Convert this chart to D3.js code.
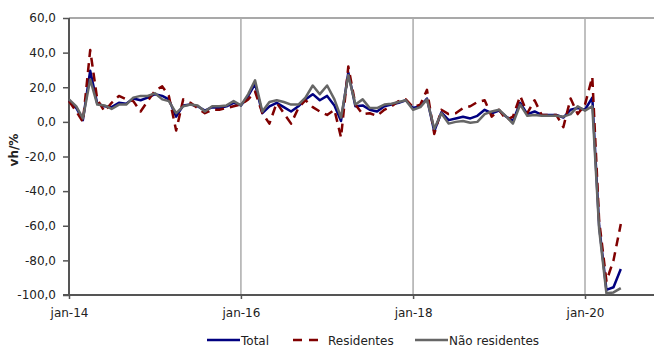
<!DOCTYPE html>
<html>
<head>
<meta charset="utf-8">
<script src="https://cdn.jsdelivr.net/npm/d3@7"></script>
<style>
  html, body { margin: 0; padding: 0; background: #fff; }
  svg { display: block; font-family: "DejaVu Sans", Verdana, sans-serif; }
</style>
</head>
<body>
<svg id="chart" width="654" height="347"></svg>
<script>
// Monthly year-on-year change (%), January 2014 onwards
const firstMonth = "2014-01-01";

const total = [
  12.5, 8, 1, 29.5, 10.5, 9, 8.5, 11, 10.5, 13.5, 12.5, 14,
  16, 15, 13, 3, 9.5, 10, 9, 6.5, 8.5, 8, 9, 11,
  9.5, 15, 22, 5, 9, 11, 8.5, 6, 9, 13, 16, 12.5,
  15, 9.5, 0.5, 28.5, 9, 9.5, 7, 6, 9, 10, 11, 12.5,
  8, 9, 13.5, -5.5, 5.5, 1, 2, 3, 2, 3.5, 7, 5,
  6.5, 3, 0.5, 11, 4.5, 6, 4, 4, 4, 2.5, 7, 8,
  7, 14, -60, -97, -95.5, -85
];

const residentes = [
  12, 6, 0, 41.5, 13, 6, 11, 15, 13, 12, 6, 12,
  18, 20.5, 15, -5, 13, 11, 8, 5, 7, 7, 8, 9,
  10, 13, 17.5, 5, -1, 11, 5, -1, 8, 12.5, 8.5, 6,
  4, 7, -9, 32, 10, 4.5, 5, 3.5, 7, 9, 12, 13,
  8.5, 10, 18.5, -7, 7, 4.5, 5, 8, 9, 11.5, 12.5, 3,
  7, 1, 3, 15, 5, 12.5, 4, 4, 4, -3, 13.5, 4.5,
  10, 26, -57, -92, -80, -59
];

const naoResidentes = [
  13, 9, 2, 24.5, 10, 9.5, 7.5, 10, 10, 14, 15, 15,
  16.5, 13, 12, 5, 9, 10, 9.5, 6, 9, 9, 9.5, 12,
  9.5, 16, 24, 6, 11.5, 12.5, 11.5, 10, 10, 14, 21, 16,
  21, 13, 2.5, 27, 10, 13, 8, 8, 10, 10.5, 11.5, 12.5,
  7, 8.5, 13, -4, 5, -1, 0, 0.5, -0.5, 0, 4.5, 6,
  7, 3, -1, 10, 3.5, 4, 3.5, 3.5, 3.5, 3, 4.5, 9,
  6.5, 9, -62, -99, -98.5, -96
];

const yTicks = [-100, -80, -60, -40, -20, 0, 20, 40, 60];
const xTickDates = ["2014-01-01", "2016-01-01", "2018-01-01", "2020-01-01"];
const xTickLabels = ["jan-14", "jan-16", "jan-18", "jan-20"];

const seriesNames = ["Total", "Residentes", "Não residentes"];
const seriesColors = ["#000080", "#800000", "#666666"];

const svg = d3.select("#chart");
const W = 654;
const plot = { left: 69, top: 18, bottom: 295, right: 654 };

const start = new Date(firstMonth);
const months = d3.utcMonth.range(start, d3.utcMonth.offset(start, total.length));

const x = d3.scaleUtc()
  .domain([new Date("2014-01-01"), new Date("2020-01-01")])
  .range([plot.left, 585]);

const y = d3.scaleLinear()
  .domain([-100, 60])
  .range([plot.bottom, plot.top]);

// top frame line
svg.append("line")
  .attr("x1", plot.left).attr("x2", plot.right)
  .attr("y1", plot.top).attr("y2", plot.top)
  .attr("stroke", "#8c8c8c").attr("stroke-width", 1.5);

// vertical gridlines at the labelled dates
const xTickValues = xTickDates.map(d => new Date(d));
svg.append("g")
  .selectAll("line")
  .data(xTickValues.slice(1))
  .join("line")
  .attr("x1", d => x(d)).attr("x2", d => x(d))
  .attr("y1", plot.top).attr("y2", plot.bottom)
  .attr("stroke", "#ababab").attr("stroke-width", 1.5);

// y axis
const yAxis = svg.append("g")
  .attr("transform", `translate(${plot.left},0)`)
  .call(d3.axisLeft(y)
    .tickValues(yTicks)
    .tickSize(6)
    .tickPadding(7)
    .tickFormat(d => d.toFixed(1).replace(".", ",")));
yAxis.select(".domain").remove();
yAxis.selectAll(".tick line").attr("stroke", "#555").attr("stroke-width", 1.5);
yAxis.selectAll(".tick text")
  .attr("fill", "#222")
  .style("font-size", "12px")
  .style("font-family", "'DejaVu Sans', sans-serif");

svg.append("line")
  .attr("x1", plot.left).attr("x2", plot.left)
  .attr("y1", plot.top).attr("y2", plot.bottom)
  .attr("stroke", "#555").attr("stroke-width", 2);

// x axis
const xAxis = svg.append("g")
  .attr("transform", `translate(0,${plot.bottom})`)
  .call(d3.axisBottom(x)
    .tickValues(xTickValues)
    .tickSize(4)
    .tickPadding(9)
    .tickFormat((d, i) => xTickLabels[i]));
xAxis.select(".domain").remove();
xAxis.selectAll(".tick line").attr("stroke", "#555").attr("stroke-width", 1.5);
xAxis.selectAll(".tick text")
  .attr("fill", "#222")
  .style("font-size", "12px")
  .style("font-family", "'DejaVu Sans', sans-serif");

svg.append("line")
  .attr("x1", plot.left - 6).attr("x2", plot.right)
  .attr("y1", plot.bottom).attr("y2", plot.bottom)
  .attr("stroke", "#555").attr("stroke-width", 2);

// y axis title
svg.append("text")
  .attr("transform", `translate(18,150) rotate(-90)`)
  .attr("text-anchor", "middle")
  .style("font-size", "12px")
  .style("font-weight", "bold")
  .attr("fill", "#222")
  .text("vh/%");

// series lines
const line = d3.line()
  .x((d, i) => x(months[i]))
  .y(d => y(d));

const seriesData = [total, residentes, naoResidentes];
seriesData.forEach((values, k) => {
  svg.append("path")
    .datum(values)
    .attr("fill", "none")
    .attr("stroke", seriesColors[k])
    .attr("stroke-width", 2.5)
    .attr("stroke-linejoin", "round")
    .attr("stroke-dasharray", k === 1 ? "9,6" : null)
    .attr("d", line);
});

// legend
const legendItems = [
  { x1: 207, x2: 240, tx: 241 },
  { x1: 293, x2: 318, tx: 328 },
  { x1: 415, x2: 448, tx: 449 }
];
const legend = svg.append("g");
legendItems.forEach((it, k) => {
  legend.append("line")
    .attr("x1", it.x1).attr("x2", it.x2)
    .attr("y1", 340).attr("y2", 340)
    .attr("stroke", seriesColors[k])
    .attr("stroke-width", 2.5)
    .attr("stroke-dasharray", k === 1 ? "9,7" : null);
  legend.append("text")
    .attr("x", it.tx).attr("y", 345)
    .style("font-size", "12px")
    .attr("fill", "#222")
    .text(seriesNames[k]);
});
</script>
</body>
</html>
